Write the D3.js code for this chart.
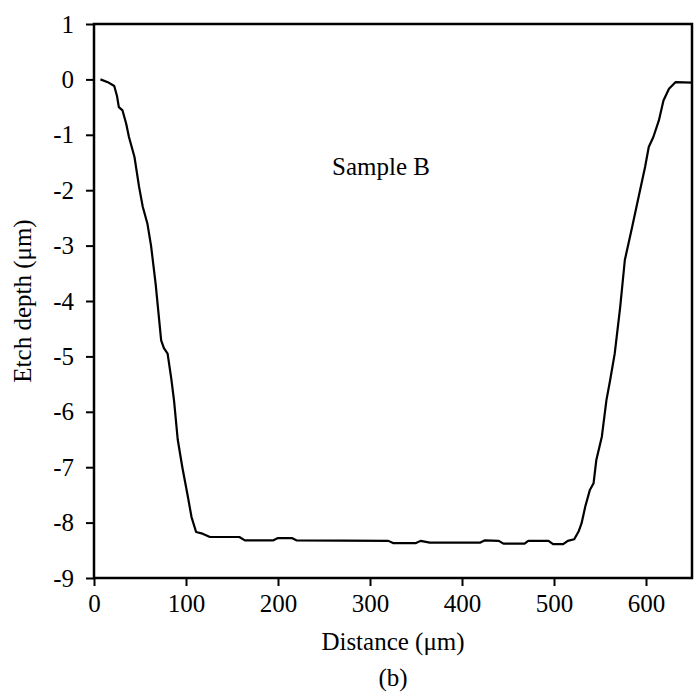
<!DOCTYPE html>
<html>
<head>
<meta charset="utf-8">
<script src="https://cdn.jsdelivr.net/npm/d3@7"></script>
<style>
  body { margin: 0; background: #fff; }
</style>
</head>
<body>
<div class="grafico"></div>
<script>
// profilo misurato: distanza (um) e profondita (um)
var distanza = [7, 15, 22, 25, 27, 31, 35, 38, 44, 49, 53, 58, 62, 67, 70, 73, 76, 80, 84, 87, 91, 96, 102, 106, 111, 118, 126,
  158, 164, 195, 200, 215, 220, 320, 325, 350, 355, 365, 420, 425, 440, 445, 468, 472, 494, 499, 510, 515, 522,
  527, 530, 534, 539, 543, 546, 552, 557, 561, 566, 572, 577, 585, 592, 599, 603, 608, 614, 619, 625, 632, 650];
var profondita = [0, -0.05, -0.12, -0.3, -0.5, -0.56, -0.8, -1.04, -1.4, -1.94, -2.3, -2.6, -3.0, -3.69, -4.2, -4.71, -4.85, -4.95, -5.4, -5.8, -6.5, -7.0, -7.53, -7.9, -8.17, -8.2, -8.26,
  -8.26, -8.32, -8.32, -8.28, -8.28, -8.32, -8.33, -8.37, -8.37, -8.33, -8.36, -8.36, -8.32, -8.33, -8.38, -8.38, -8.33, -8.33, -8.39, -8.39, -8.33, -8.3,
  -8.15, -8.01, -7.71, -7.41, -7.29, -6.87, -6.45, -5.79, -5.43, -4.95, -4.1, -3.26, -2.66, -2.12, -1.58, -1.22, -1.04, -0.74, -0.38, -0.17, -0.05, -0.06];

var ticksX = [0, 100, 200, 300, 400, 500, 600];
var ticksY = [1, 0, -1, -2, -3, -4, -5, -6, -7, -8, -9];

var w = 695,
    h = 696;

var sx = 94, dx = 692, alto = 24, basso = 578;
var carattere = "'Liberation Serif', 'Times New Roman', Times, serif";

var svg = d3.select(".grafico")
  .append("svg")
  .attr("width", w)
  .attr("height", h);

var x = d3.scaleLinear().domain([0, 650]).range([sx, dx]);
var y = d3.scaleLinear().domain([-9, 1]).range([basso, alto]);

// assi
var assex = svg.append("g")
  .attr("transform", "translate(0," + basso + ")")
  .call(d3.axisBottom(x).tickValues(ticksX).tickSize(8).tickPadding(8).tickFormat(d3.format("d")));
var assey = svg.append("g")
  .attr("transform", "translate(" + sx + ",0)")
  .call(d3.axisLeft(y).tickValues(ticksY).tickSize(8).tickPadding(12).tickFormat(function (d) { return d; }));

[assex, assey].forEach(function (a) {
  a.attr("font-family", carattere).attr("font-size", 25);
  a.select(".domain").remove();
  a.selectAll("line").attr("stroke", "#000").attr("stroke-width", 2);
  a.selectAll("text").attr("fill", "#000");
});

// cornice
svg.append("rect")
  .attr("x", sx)
  .attr("y", alto)
  .attr("width", dx - sx)
  .attr("height", basso - alto)
  .attr("fill", "none")
  .attr("stroke", "#000")
  .attr("stroke-width", 2.5);

// curva
var punti = distanza.map(function (d, i) { return [d, profondita[i]]; });
svg.append("path")
  .datum(punti)
  .attr("d", d3.line().x(function (d) { return x(d[0]); }).y(function (d) { return y(d[1]); }))
  .attr("fill", "none")
  .attr("stroke", "#000")
  .attr("stroke-width", 2.2)
  .attr("stroke-linejoin", "round");

// testi
var testi = svg.append("g")
  .attr("font-family", carattere)
  .attr("font-size", 25)
  .attr("fill", "#000");

testi.append("text")
  .attr("x", 332)
  .attr("y", 175)
  .text("Sample B");

testi.append("text")
  .attr("x", (sx + dx) / 2)
  .attr("y", 650)
  .attr("text-anchor", "middle")
  .text("Distance (\u03bcm)");

testi.append("text")
  .attr("x", (sx + dx) / 2)
  .attr("y", 686)
  .attr("text-anchor", "middle")
  .text("(b)");

testi.append("text")
  .attr("transform", "translate(31," + ((alto + basso) / 2) + ") rotate(-90)")
  .attr("text-anchor", "middle")
  .text("Etch depth (\u03bcm)");
</script>
</body>
</html>
